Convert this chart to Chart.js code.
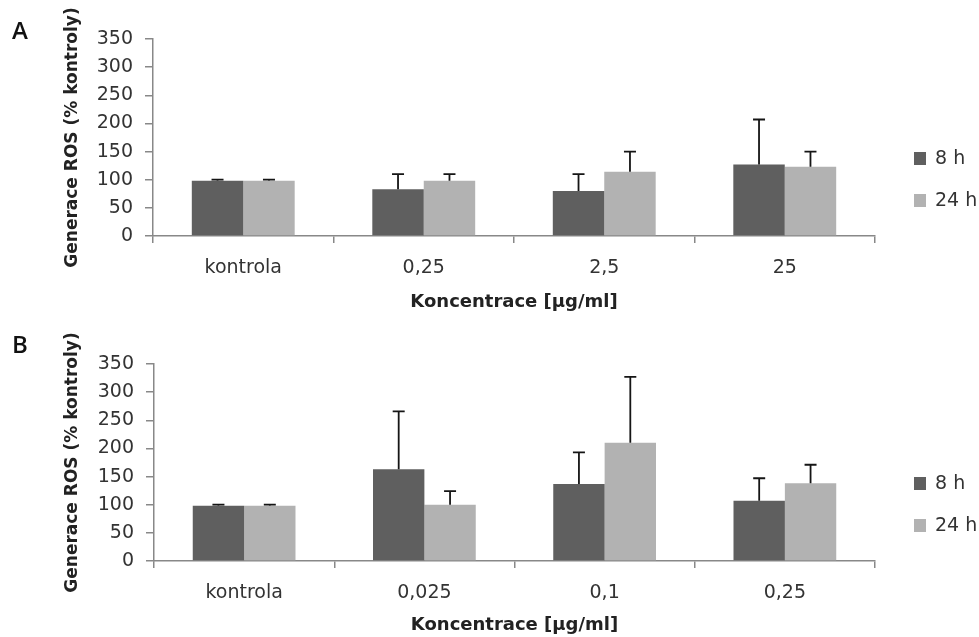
<!DOCTYPE html>
<html>
<head>
<meta charset="utf-8">
<script src="https://cdn.jsdelivr.net/npm/chart.js@4.4.0/dist/chart.umd.min.js"></script>
<style>
  body { margin: 0; background: #fff; width: 979px; height: 637px; overflow: hidden; position: relative; font-family: "DejaVu Sans", sans-serif; }
  .panel { position: absolute; left: 0; width: 979px; }
  .tag { position: absolute; left: 12px; font: 24px "Open Sans", "Liberation Sans", sans-serif; font-weight: 600; color: #111; }
  .legend { position: absolute; left: 914px; font-size: 19px; color: #333; }
  .legend div { position: absolute; white-space: nowrap; line-height: 19px; }
  .legend span { display: inline-block; width: 12px; height: 13px; margin-right: 9px; vertical-align: -1px; }
</style>
</head>
<body>

<div class="panel" style="top:0;height:320px"><canvas id="chartA" width="979" height="320"></canvas></div>
<div class="panel" style="top:320px;height:317px"><canvas id="chartB" width="979" height="317"></canvas></div>

<div class="tag" style="top:13px">A</div>
<div class="tag" style="top:327px">B</div>

<div class="legend" style="top:148px">
  <div style="top:0"><span style="background:#5f5f5f"></span>8 h</div>
  <div style="top:42px"><span style="background:#b2b2b2"></span>24 h</div>
</div>
<div class="legend" style="top:473px">
  <div style="top:0"><span style="background:#5f5f5f"></span>8 h</div>
  <div style="top:42px"><span style="background:#b2b2b2"></span>24 h</div>
</div>

<script>
  // Panel A
  const labelsA = ['kontrola', '0,25', '2,5', '25'];
  const h8A = [98, 83, 80, 127];
  const h8ErrA = [2, 27, 30, 80];
  const h24A = [98, 98, 114, 123];
  const h24ErrA = [2, 12, 36, 27];

  // Panel B
  const labelsB = ['kontrola', '0,025', '0,1', '0,25'];
  const h8B = [98, 163, 137, 107];
  const h8ErrB = [2, 103, 56, 40];
  const h24B = [98, 100, 210, 138];
  const h24ErrB = [2, 24, 117, 33];

  const seriesNames = ['8 h', '24 h'];
  const yTicks = [0, 50, 100, 150, 200, 250, 300, 350];

  // upper error bars, drawn on top of the bars
  const errorBars = {
    id: 'errorBars',
    afterDatasetsDraw(chart) {
      const ctx = chart.ctx;
      const y = chart.scales.y;
      chart.data.datasets.forEach((ds, i) => {
        chart.getDatasetMeta(i).data.forEach((bar, j) => {
          const top = y.getPixelForValue(ds.data[j] + ds.errors[j]);
          ctx.save();
          ctx.strokeStyle = '#151515';
          ctx.lineWidth = 1.8;
          ctx.beginPath();
          ctx.moveTo(bar.x, bar.y);
          ctx.lineTo(bar.x, top);
          ctx.moveTo(bar.x - 6, top);
          ctx.lineTo(bar.x + 6, top);
          ctx.stroke();
          ctx.restore();
        });
      });
    }
  };

  function makeChart(id, labels, d8, e8, d24, e24, cfg) {
    return new Chart(document.getElementById(id), {
      type: 'bar',
      data: {
        labels: labels,
        datasets: [
          { label: seriesNames[0], data: d8, errors: e8, backgroundColor: '#5f5f5f' },
          { label: seriesNames[1], data: d24, errors: e24, backgroundColor: '#b2b2b2' }
        ]
      },
      options: {
        responsive: false,
        animation: false,
        layout: { padding: { top: cfg.top, right: 104, bottom: 0, left: 0 } },
        datasets: { bar: { categoryPercentage: 0.57, barPercentage: 1 } },
        plugins: { legend: { display: false }, tooltip: { enabled: false } },
        scales: {
          x: {
            afterFit(scale) { scale.height = cfg.xHeight; },
            grid: { offset: true, drawOnChartArea: false, color: '#888', lineWidth: 1.5, tickLength: 7 },
            border: { color: '#888', width: 1.5 },
            ticks: { color: '#333', font: { family: 'DejaVu Sans', size: 19 }, padding: 14 },
            title: {
              display: true, text: 'Koncentrace [µg/ml]', color: '#222',
              font: { family: 'DejaVu Sans', size: 18, weight: 'bold' },
              padding: { top: 0, bottom: cfg.titlePad }
            }
          },
          y: {
            min: 0, max: 350,
            afterFit(scale) { scale.width = cfg.left; },
            afterBuildTicks(scale) { scale.ticks = yTicks.map(v => ({ value: v })); },
            grid: { drawOnChartArea: false, color: '#888', lineWidth: 1.5, tickLength: 8 },
            border: { color: '#888', width: 1.5 },
            ticks: { color: '#333', font: { family: 'DejaVu Sans', size: 19 }, padding: 12 },
            title: {
              display: true, text: 'Generace ROS (% kontroly)', color: '#222',
              font: { family: 'DejaVu Sans', size: 17, weight: 'bold' },
              padding: { top: 62, bottom: 0 }
            }
          }
        }
      },
      plugins: [errorBars]
    });
  }

  makeChart('chartA', labelsA, h8A, h8ErrA, h24A, h24ErrA, { top: 39, xHeight: 84, left: 153, titlePad: 7 });
  makeChart('chartB', labelsB, h8B, h8ErrB, h24B, h24ErrB, { top: 44, xHeight: 76, left: 154, titlePad: 1 });
</script>
</body>
</html>
